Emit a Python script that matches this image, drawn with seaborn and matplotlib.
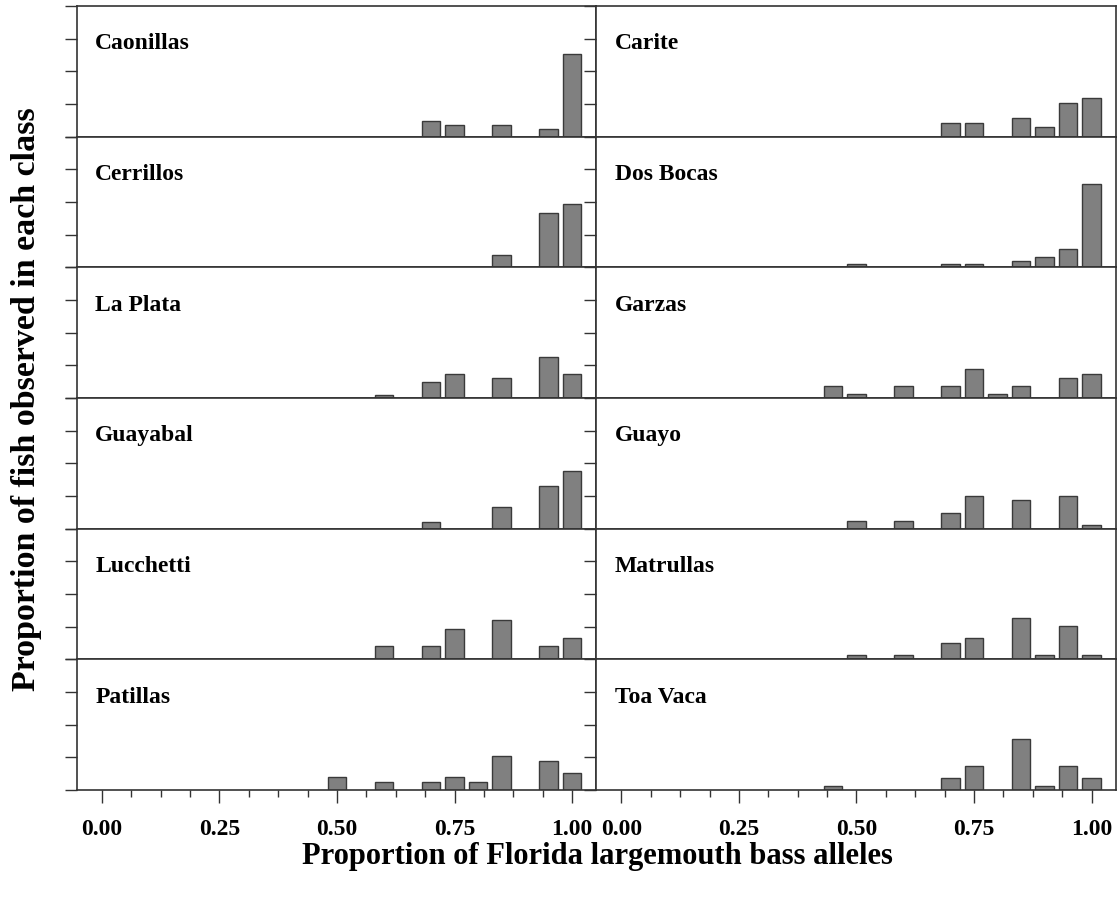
import numpy as np
import pandas as pd
import matplotlib
matplotlib.use('Agg')
import matplotlib.pyplot as plt
from matplotlib.ticker import MultipleLocator, FormatStrFormatter
import seaborn as sns

# allele-proportion classes (x) and proportion of fish per class, one list per site
bins = [0.45, 0.50, 0.55, 0.60, 0.65, 0.70, 0.75, 0.80, 0.85, 0.90, 0.95, 1.00]

caonillas = [0, 0, 0, 0, 0, 0.120, 0.090, 0, 0.090, 0, 0.061, 0.636]
carite    = [0, 0, 0, 0, 0, 0.107, 0.107, 0, 0.145, 0.074, 0.254, 0.293]
cerrillos = [0, 0, 0, 0, 0, 0, 0, 0, 0.092, 0, 0.417, 0.486]
dos_bocas = [0, 0.025, 0, 0, 0, 0.025, 0.025, 0, 0.051, 0.081, 0.137, 0.639]
la_plata  = [0, 0, 0, 0.025, 0, 0.120, 0.183, 0, 0.150, 0, 0.310, 0.183]
garzas    = [0.092, 0.030, 0, 0.092, 0, 0.092, 0.219, 0.030, 0.092, 0, 0.155, 0.186]
guayabal  = [0, 0, 0, 0, 0, 0.053, 0, 0, 0.165, 0, 0.328, 0.440]
guayo     = [0, 0.061, 0, 0.061, 0, 0.122, 0.247, 0, 0.219, 0, 0.247, 0.028]
lucchetti = [0, 0, 0, 0.099, 0, 0.099, 0.232, 0, 0.300, 0, 0.099, 0.165]
matrullas = [0, 0.033, 0, 0.033, 0, 0.127, 0.160, 0, 0.320, 0.033, 0.257, 0.033]
patillas  = [0, 0.097, 0, 0.064, 0, 0.064, 0.097, 0.064, 0.257, 0, 0.224, 0.130]
toa_vaca  = [0.028, 0, 0, 0, 0, 0.092, 0.180, 0, 0.390, 0.028, 0.180, 0.092]

sites = ['Caonillas', 'Carite', 'Cerrillos', 'Dos Bocas', 'La Plata', 'Garzas',
         'Guayabal', 'Guayo', 'Lucchetti', 'Matrullas', 'Patillas', 'Toa Vaca']
values = [caonillas, carite, cerrillos, dos_bocas, la_plata, garzas,
          guayabal, guayo, lucchetti, matrullas, patillas, toa_vaca]

sns.set_style('ticks')
plt.rcParams['font.family'] = ['Liberation Serif', 'DejaVu Serif']
plt.rcParams['font.weight'] = 'bold'
plt.rcParams['text.color'] = 'black'
plt.rcParams['xtick.labelcolor'] = 'black'

fig, axes = plt.subplots(6, 2, figsize=(11.19, 8.98), dpi=100, sharex=True, sharey=True)
fig.subplots_adjust(left=0.0688, right=0.9973, top=0.9933, bottom=0.1203,
                    wspace=0, hspace=0)

spine_col = '#333333'
for i, ax in enumerate(axes.flat):
    df = pd.DataFrame({'allele': bins, 'prop': values[i]})
    df = df[df['prop'] > 0]
    sns.barplot(data=df, x='allele', y='prop', native_scale=True, ax=ax,
                color='#808080', saturation=1, edgecolor='#3a3a3a',
                linewidth=1, errorbar=None)
    ax.set_xlim(-0.053, 1.052)
    ax.set_ylim(0, 1)
    ax.set_yticks([0, 0.25, 0.5, 0.75, 1.0])
    ax.set_yticklabels([])
    ax.xaxis.set_major_locator(MultipleLocator(0.25))
    ax.xaxis.set_minor_locator(MultipleLocator(0.0625))
    ax.xaxis.set_major_formatter(FormatStrFormatter('%.2f'))
    ax.tick_params(axis='both', which='major', direction='out', length=9,
                   width=1, color=spine_col, labelsize=17)
    ax.tick_params(axis='x', which='minor', direction='out', length=5,
                   width=1, color=spine_col)
    ax.tick_params(axis='x', which='major', pad=12)
    for s in ax.spines.values():
        s.set_visible(True)
        s.set_color(spine_col)
        s.set_linewidth(1.2)
    ax.set_xlabel('')
    ax.set_ylabel('')
    ax.text(0.035, 0.71, sites[i], transform=ax.transAxes, fontsize=17,
            fontweight='bold', va='center', ha='left')

fig.text(0.534, 0.046, 'Proportion of Florida largemouth bass alleles',
         ha='center', va='center', fontsize=22, fontweight='bold')
fig.text(0.024, 0.556, 'Proportion of fish observed in each class',
         ha='center', va='center', rotation=90, fontsize=24.5, fontweight='bold')

fig.savefig('out.png', dpi=100)
